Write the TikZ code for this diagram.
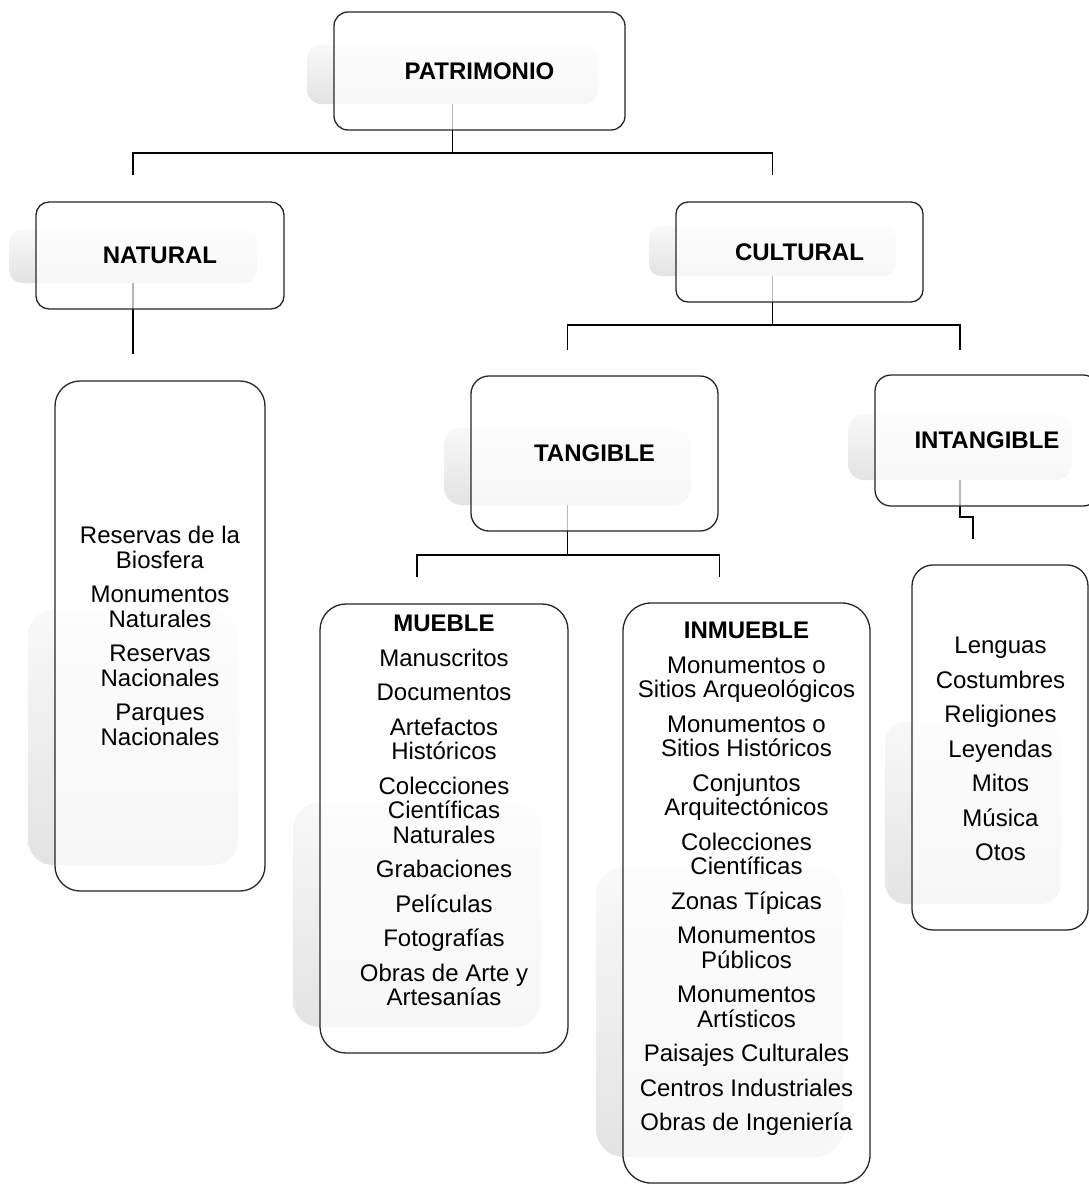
\documentclass[tikz,border=0pt]{standalone}
\usepackage{fontspec}
\setmainfont{Liberation Sans}
\usetikzlibrary{calc}
\begin{document}
\begin{tikzpicture}[x=1pt,y=-1pt,
  shadowbox/.style={draw=none, top color=gray!5, bottom color=gray!22, inner sep=0pt, outer sep=0pt},
  box/.style={draw=black!85, line width=1.3pt, fill=white, fill opacity=0.72, text opacity=1, inner sep=0pt, outer sep=0pt},
  conn/.style={draw=black, line width=1.2pt},
  head/.style={font={\fontsize{24}{24.5}\selectfont\bfseries}},
  listtext/.style={align=center, anchor=north, inner sep=0pt, font={\fontsize{24}{24.5}\selectfont\lineskiplimit=-50pt\relax}}]
\useasboundingbox (0,0) rectangle (1089,1184);
\clip (0,0) rectangle (1089,1184);

% shadows
\node[shadowbox, minimum width=291pt, minimum height=59pt, rounded corners=14pt] (pat-s) at (452.5,74.5) {};
\node[shadowbox, minimum width=248pt, minimum height=53.5pt, rounded corners=13pt] (nat-s) at (133,256.25) {};
\node[shadowbox, minimum width=247pt, minimum height=50pt, rounded corners=12pt] (cul-s) at (772.5,251) {};
\node[shadowbox, minimum width=210pt, minimum height=255pt, rounded corners=25pt] (natl-s) at (133,737.5) {};
\node[shadowbox, minimum width=247pt, minimum height=77.5pt, rounded corners=18pt] (tan-s) at (567.5,466.25) {};
\node[shadowbox, minimum width=224pt, minimum height=65.5pt, rounded corners=16pt] (int-s) at (960,447.25) {};
\node[shadowbox, minimum width=248pt, minimum height=224.5pt, rounded corners=26pt] (mue-s) at (417,914.75) {};
\node[shadowbox, minimum width=247pt, minimum height=290pt, rounded corners=28pt] (inm-s) at (719.5,1012) {};
\node[shadowbox, minimum width=176pt, minimum height=182.5pt, rounded corners=21pt] (intl-s) at (973,812.75) {};

% connector end points
\coordinate (b1) at (452.5,153);
\coordinate (natin) at (133,175);
\coordinate (culin) at (772.5,175);
\coordinate (natlin) at (133,354);
\coordinate (b2) at (772.5,325);
\coordinate (tanin) at (567.5,350);
\coordinate (intin) at (960,350);
\coordinate (b3) at (567.5,555);
\coordinate (muein) at (417,577);
\coordinate (inmin) at (719.5,577);
\coordinate (b4) at (960,517);
\coordinate (intlin) at (973,539);

% connectors
\draw[conn] (pat-s.south) -- (b1);
\draw[conn] (natin) |- (b1) -| (culin);
\draw[conn] (nat-s.south) -- (natlin);
\draw[conn] (cul-s.south) -- (b2);
\draw[conn] (tanin) |- (b2) -| (intin);
\draw[conn] (tan-s.south) -- (b3);
\draw[conn] (muein) |- (b3) -| (inmin);
\draw[conn] (int-s.south) -- (b4) -| (intlin);

% boxes
\node[box, head, minimum width=291pt, minimum height=118pt, rounded corners=14pt] (pat) at (479.5,71) {PATRIMONIO};
\node[box, head, minimum width=248pt, minimum height=107pt, rounded corners=13pt] (nat) at (160,255.5) {NATURAL};
\node[box, head, minimum width=247pt, minimum height=100pt, rounded corners=12pt] (cul) at (799.5,252) {CULTURAL};
\node[box, minimum width=210pt, minimum height=510pt, rounded corners=25pt] (natl) at (160,636) {};
\node[box, head, minimum width=247pt, minimum height=155pt, rounded corners=18pt] (tan) at (594.5,453.5) {TANGIBLE};
\node[box, head, minimum width=224pt, minimum height=131pt, rounded corners=16pt] (int) at (987,440.5) {INTANGIBLE};
\node[box, minimum width=248pt, minimum height=449pt, rounded corners=26pt] (mue) at (444,828.5) {};
\node[box, minimum width=247pt, minimum height=580pt, rounded corners=28pt] (inm) at (746.5,893) {};
\node[box, minimum width=176pt, minimum height=365pt, rounded corners=21pt] (intl) at (1000,747.5) {};

% list texts
\node[listtext] (natl-t) at (160,526) {Reservas de la\\Biosfera\\[10pt]Monumentos\\Naturales\\[10pt]Reservas\\Nacionales\\[10pt]Parques\\Nacionales};
\node[listtext] (mue-t) at (444,615) {\textbf{MUEBLE}\\[10pt]Manuscritos\\[10pt]Documentos\\[10pt]Artefactos\\Históricos\\[10pt]Colecciones\\Científicas\\Naturales\\[10pt]Grabaciones\\[10pt]Películas\\[10pt]Fotografías\\[10pt]Obras de Arte y\\Artesanías};
\node[listtext] (inm-t) at (746.5,622) {\textbf{INMUEBLE}\\[10pt]Monumentos o\\Sitios Arqueológicos\\[10pt]Monumentos o\\Sitios Históricos\\[10pt]Conjuntos\\Arquitectónicos\\[10pt]Colecciones\\Científicas\\[10pt]Zonas Típicas\\[10pt]Monumentos\\Públicos\\[10pt]Monumentos\\Artísticos\\[10pt]Paisajes Culturales\\[10pt]Centros Industriales\\[10pt]Obras de Ingeniería};
\node[listtext] (intl-t) at (1000.5,637) {Lenguas\\[10pt]Costumbres\\[10pt]Religiones\\[10pt]Leyendas\\[10pt]Mitos\\[10pt]Música\\[10pt]Otos};
\end{tikzpicture}
\end{document}
